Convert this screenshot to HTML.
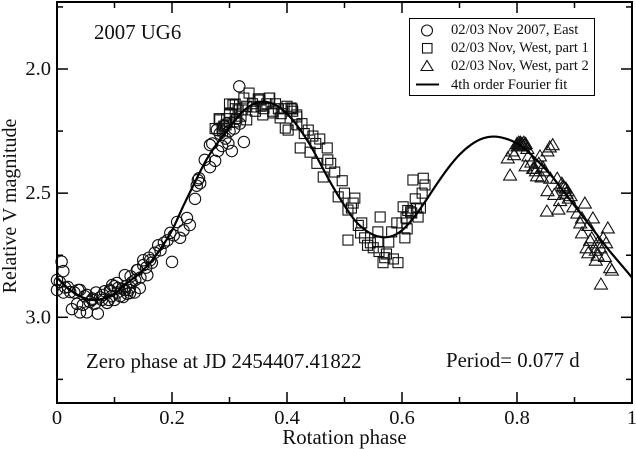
<!DOCTYPE html>
<html>
<head>
<meta charset="utf-8">
<title>2007 UG6 lightcurve</title>
<style>
html,body{margin:0;padding:0;background:#fff;width:636px;height:449px;overflow:hidden}
svg{display:block;font-family:"Liberation Serif",serif;fill:#111}
</style>
</head>
<body>
<svg id="chart" width="636" height="449" viewBox="0 0 636 449">
  <g id="marks"></g>
  <rect x="57" y="2" width="575" height="401" fill="none" stroke="#000" stroke-width="2"></rect>
  <g id="ticks"></g>
  <text x="94" y="39" font-size="20.8">2007 UG6</text>
  <text x="86" y="368" font-size="20.8">Zero phase at JD 2454407.41822</text>
  <text x="446" y="367" font-size="20.8">Period= 0.077 d</text>
  <text x="344.500" y="444" font-size="20.800" text-anchor="middle">Rotation phase</text>
  <text transform="translate(16,206) rotate(-90)" font-size="20" text-anchor="middle">Relative V magnitude</text>
  <g>
    <rect x="409.500" y="18.500" width="185" height="77" fill="#fff" stroke="#000" stroke-width="1"></rect>
    <circle cx="427" cy="30.500" r="5.500" fill="none" stroke="#111" stroke-width="1.100"></circle>
    <rect x="422.500" y="43.500" width="9.500" height="9.500" fill="none" stroke="#111" stroke-width="1.100"></rect>
    <polygon points="421,70.500 433,70.500 427,60.500" fill="none" stroke="#111" stroke-width="1.100"></polygon>
    <line x1="416" y1="84.500" x2="439" y2="84.500" stroke="#000" stroke-width="2"></line>
    <text x="451" y="34" font-size="14.600">02/03 Nov 2007, East</text>
    <text x="451" y="52" font-size="14.600">02/03 Nov, West, part 1</text>
    <text x="451" y="70" font-size="14.600">02/03 Nov, West, part 2</text>
    <text x="451" y="89" font-size="14.600">4th order Fourier fit</text>
  </g>
</svg>
<script>
var xMajorTicks = [0, 0.2, 0.4, 0.6, 0.8, 1];
var xMajorLabels = ["0", "0.2", "0.4", "0.6", "0.8", "1"];
var xMinorTicks = [0.1, 0.3, 0.5, 0.7, 0.9];
var yMajorTicks = [2, 2.5, 3];
var yMajorLabels = ["2.0", "2.5", "3.0"];
var yMinorTicks = [1.75, 2.25, 2.75, 3.25];

var fitPhase = [0,.02,.04,.06,.08,.10,.12,.14,.16,.18,.20,.22,.24,.26,.28,.30,.32,.34,.36,.38,.40,.42,.44,.46,.48,.50,
  .52,.54,.56,.58,.60,.62,.64,.66,.68,.70,.72,.74,.76,.78,.80,.82,.84,.86,.88,.90,.92,.94,.96,.98,1];
var fitMag = [2.84,2.885,2.915,2.93,2.925,2.905,2.865,2.83,2.785,2.725,2.65,2.55,2.455,2.365,2.295,2.235,2.178,2.143,2.132,2.145,2.18,2.235,2.305,2.39,2.475,2.55,
  2.615,2.655,2.675,2.675,2.65,2.60,2.535,2.465,2.40,2.345,2.305,2.28,2.272,2.28,2.30,2.335,2.38,2.43,2.49,2.55,2.61,2.67,2.73,2.785,2.84];

var eastPhase = [.008,.011,0,.005,0,.011,.019,.023,.037,.026,.04,.052,.071,.035,.045,.057,.087,.068,.052,.075,.08,
  .03,.014,.048,.062,.066,.09,.095,.10,.105,.11,.113,.118,.122,.127,.13,.135,.083,.093,.10,.12,.125,.128,
  .14,.145,.15,.155,.16,.165,.17,.176,.18,.186,.192,.197,.2,.203,.209,.214,.22,.226,.231,.24,.245,.249,.247,
  .243,.257,.266,.275,.266,.278,.287,.298,.304,.325,.317,.29,.30,.312,.318,.27,.283,.293,.308,.295,.28,
  .04,.096,.104,.106,.118,.127,.144,.139,.15,.162,.052,.061,.078,.092,.115,.136,.157];
var eastMag = [2.776,2.814,2.85,2.858,2.89,2.90,2.878,2.898,2.89,2.967,2.98,2.98,2.985,2.946,2.95,2.938,2.942,2.90,2.91,2.92,2.91,
  2.90,2.88,2.915,2.925,2.945,2.93,2.915,2.93,2.90,2.915,2.885,2.89,2.905,2.88,2.86,2.90,2.895,2.895,2.875,2.875,2.89,2.835,
  2.81,2.84,2.79,2.80,2.76,2.78,2.74,2.71,2.73,2.70,2.69,2.66,2.777,2.67,2.616,2.68,2.65,2.60,2.628,2.523,2.447,2.46,2.44,
  2.47,2.366,2.306,2.37,2.395,2.245,2.31,2.30,2.33,2.294,2.07,2.23,2.25,2.20,2.22,2.30,2.26,2.28,2.24,2.22,2.33,
  2.89,2.87,2.862,2.882,2.83,2.902,2.882,2.81,2.77,2.77,2.91,2.93,2.93,2.89,2.918,2.85,2.83];

var westOnePhase = [.334,.325,.306,.369,.35,.31,.283,.30,.32,.407,.417,.437,.457,.423,.47,.44,.471,.452,.483,.463,.496,.50,.489,
  .515,.506,.562,.524,.506,.591,.558,.582,.609,.605,.577,.558,.528,.535,.54,.55,.56,.567,.593,.585,.57,
  .602,.61,.617,.628,.623,.632,.619,.637,.64,.635,.29,.295,.315,.33,.34,.345,.355,.36,.365,.375,.38,.385,.39,.395,.40,.41,
  .275,.288,.30,.31,.426,.43,.445,.45,.476,.512,.518,.53,.545,.573,.607,.615,.625,.60,
  .31,.30,.353,.37,.409,.417,.282,.30,.322,.33,.341,.358,.376,.388,.397,.417,.402,.294,.31,.287];
var westOneMag = [2.097,2.117,2.145,2.117,2.12,2.16,2.205,2.185,2.19,2.157,2.193,2.246,2.282,2.318,2.318,2.335,2.366,2.38,2.415,2.435,2.45,2.50,2.515,
  2.54,2.568,2.596,2.63,2.689,2.62,2.656,2.656,2.644,2.68,2.697,2.697,2.66,2.68,2.71,2.72,2.735,2.78,2.78,2.765,2.76,
  2.555,2.57,2.58,2.596,2.523,2.56,2.447,2.44,2.467,2.50,2.23,2.20,2.165,2.15,2.14,2.17,2.15,2.16,2.14,2.17,2.14,2.16,2.18,2.16,2.15,2.17,
  2.24,2.25,2.215,2.20,2.22,2.26,2.27,2.30,2.38,2.56,2.52,2.62,2.70,2.745,2.60,2.575,2.56,2.62,
  2.141,2.141,2.125,2.117,2.161,2.185,2.2,2.177,2.165,2.205,2.153,2.185,2.177,2.197,2.238,2.225,2.246,2.225,2.213,2.238];

var westTwoPhase = [.857,.862,.80,.803,.806,.809,.812,.815,.788,.784,.795,.792,.82,.825,.815,.83,.84,.845,.853,.835,.828,.843,.838,
  .858,.87,.853,.88,.888,.893,.865,.852,.872,.875,.898,.918,.905,.913,.932,.924,.913,.958,.927,.95,.921,.924,.937,.955,.953,.937,.94,.965,.962,.946,.89,.91,.885,
  .801,.804,.807,.81,.813,.818,.833,.848,.878,.882,.886,.94,.945,.93];
var westTwoMag = [2.314,2.305,2.30,2.295,2.295,2.30,2.295,2.30,2.427,2.358,2.345,2.33,2.35,2.375,2.39,2.40,2.35,2.395,2.33,2.43,2.40,2.435,2.38,
  2.44,2.44,2.49,2.47,2.49,2.51,2.505,2.572,2.564,2.53,2.555,2.54,2.58,2.60,2.60,2.63,2.66,2.64,2.69,2.68,2.72,2.74,2.73,2.70,2.755,2.77,2.75,2.81,2.80,2.866,2.52,2.62,2.48,
  2.31,2.305,2.30,2.31,2.305,2.32,2.41,2.41,2.46,2.475,2.50,2.70,2.72,2.68];

function xScale(p) { return 57 + 575 * p; }
function yScale(m) { return 69 + 248.3 * (m - 2); }

var NS = "http://www.w3.org/2000/svg";
var marks = document.getElementById("marks");
var ticks = document.getElementById("ticks");

eastPhase.forEach(function (p, i) {
  var c = document.createElementNS(NS, "circle");
  c.setAttribute("cx", xScale(p));
  c.setAttribute("cy", yScale(eastMag[i]));
  c.setAttribute("r", 5.7);
  c.setAttribute("fill", "none");
  c.setAttribute("stroke", "#111");
  c.setAttribute("stroke-width", 1.1);
  
  
  marks.appendChild(c);
});

westOnePhase.forEach(function (p, i) {
  var r = document.createElementNS(NS, "rect");
  r.setAttribute("x", xScale(p) - 5);
  r.setAttribute("y", yScale(westOneMag[i]) - 5);
  r.setAttribute("width", 10);
  r.setAttribute("height", 10);
  r.setAttribute("fill", "none");
  r.setAttribute("stroke", "#111");
  r.setAttribute("stroke-width", 1.1);
  
  
  marks.appendChild(r);
});

westTwoPhase.forEach(function (p, i) {
  var x = xScale(p), y = yScale(westTwoMag[i]);
  var t = document.createElementNS(NS, "polygon");
  t.setAttribute("points", (x - 6.5) + "," + (y + 5) + " " + (x + 6.5) + "," + (y + 5) + " " + x + "," + (y - 6));
  t.setAttribute("fill", "none");
  t.setAttribute("stroke", "#111");
  t.setAttribute("stroke-width", 1.1);
  
  
  marks.appendChild(t);
});

function splinePath(xs, ys) {
  var d = "M" + xs[0] + " " + ys[0];
  for (var i = 0; i < xs.length - 1; i++) {
    var a = Math.max(i - 1, 0), b = Math.min(i + 2, xs.length - 1);
    d += " C" + (xs[i] + (xs[i + 1] - xs[a]) / 6) + " " + (ys[i] + (ys[i + 1] - ys[a]) / 6) +
         " " + (xs[i + 1] - (xs[b] - xs[i]) / 6) + " " + (ys[i + 1] - (ys[b] - ys[i]) / 6) +
         " " + xs[i + 1] + " " + ys[i + 1];
  }
  return d;
}
var fit = document.createElementNS(NS, "path");
fit.setAttribute("d", splinePath(fitPhase.map(xScale), fitMag.map(yScale)));
fit.setAttribute("fill", "none");
fit.setAttribute("stroke", "#000");
fit.setAttribute("stroke-width", 2.2);


marks.appendChild(fit);

function addTick(x1, y1, x2, y2) {
  var l = document.createElementNS(NS, "line");
  l.setAttribute("x1", x1);
  l.setAttribute("y1", y1);
  l.setAttribute("x2", x2);
  l.setAttribute("y2", y2);
  l.setAttribute("stroke", "#000");
  l.setAttribute("stroke-width", 1.5);
  
  
  ticks.appendChild(l);
}
function addLabel(x, y, anchor, str) {
  var t = document.createElementNS(NS, "text");
  t.setAttribute("x", x);
  t.setAttribute("y", y);
  t.setAttribute("text-anchor", anchor);
  t.setAttribute("font-size", 20.5);
  
  
  t.textContent = str;
  ticks.appendChild(t);
}
xMajorTicks.forEach(function (v, i) {
  var x = xScale(v);
  addTick(x, 403, x, 392);
  addTick(x, 2, x, 13);
  addLabel(x, 424, "middle", xMajorLabels[i]);
});
xMinorTicks.forEach(function (v) {
  var x = xScale(v);
  addTick(x, 403, x, 397);
  addTick(x, 2, x, 8);
});
yMajorTicks.forEach(function (v, i) {
  var y = yScale(v);
  addTick(57, y, 68, y);
  addTick(632, y, 621, y);
  addLabel(51, y + 6, "end", yMajorLabels[i]);
});
yMinorTicks.forEach(function (v) {
  var y = yScale(v);
  addTick(57, y, 63, y);
  addTick(632, y, 626, y);
});
</script>
</body>
</html>
